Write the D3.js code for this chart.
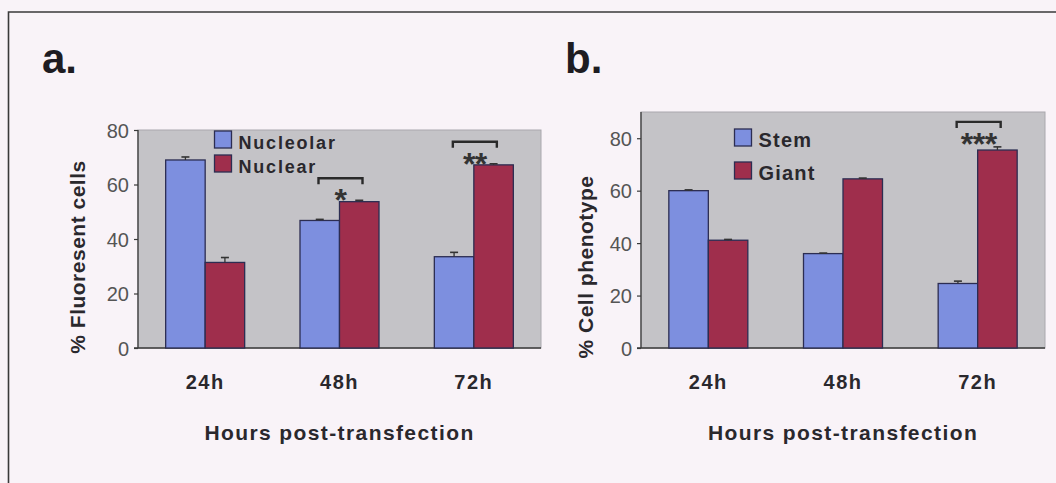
<!DOCTYPE html>
<html>
<head>
<meta charset="utf-8">
<script src="https://cdn.jsdelivr.net/npm/d3@7"></script>
<style>
  html, body { margin: 0; padding: 0; background: #f9f3f8; }
  svg { display: block; }
  text { font-family: "Liberation Sans", Arial, sans-serif; }
</style>
</head>
<body>
<svg id="fig" width="1056" height="483"></svg>
<script>
// ---- data ----
const categories = ["24h", "48h", "72h"];
const yTicks = [0, 20, 40, 60, 80];

// panel a: % fluorescent cells by localisation
const seriesA = ["Nucleolar", "Nuclear"];
const nucleolar = [69.0, 46.8, 33.5];
const nucleolarErr = [1.1, 0.4, 1.6];
const nuclear = [31.4, 53.7, 67.2];
const nuclearErr = [1.8, 0.5, 0.4];
const sigA = [{ cat: "48h", label: "*" }, { cat: "72h", label: "**" }];

// panel b: % cell phenotype
const seriesB = ["Stem", "Giant"];
const stem = [60.0, 36.0, 24.6];
const stemErr = [0.3, 0.2, 0.9];
const giant = [41.1, 64.5, 75.5];
const giantErr = [0.3, 0.3, 1.2];
const sigB = [{ cat: "72h", label: "***" }];

const xTitle = "Hours post-transfection";

// ---- styling ----
const COLORS = ["#7d8fdf", "#9f2e4c"];
const INK = "#2a282d";
const svg = d3.select("#fig");

// page frame
svg.append("path")
  .attr("d", "M8.5,483 V12 H1056")
  .attr("fill", "none").attr("stroke", "#3a3a3a").attr("stroke-width", 1.6);

function panel(opt) {
  const g = svg.append("g");
  const { left, right, top, bottom } = opt.box;

  const x0 = d3.scaleBand().domain(categories).range([left, right]).paddingInner(0).paddingOuter(0);
  const x1 = d3.scaleBand().domain(opt.series).range([0, 79]);
  const y = d3.scaleLinear().domain([0, opt.yMax]).range([bottom, top]);

  // plot area
  g.append("rect")
    .attr("x", left).attr("y", top).attr("width", right - left).attr("height", bottom - top)
    .attr("fill", "#c4c3c7").attr("stroke", "#aaa8ad").attr("stroke-width", 1);

  // y axis
  const ya = g.append("g").attr("transform", `translate(${left},0)`)
    .call(d3.axisLeft(y).tickValues(yTicks).tickSize(4).tickPadding(5).tickFormat(d3.format("d")));
  ya.select(".domain").attr("stroke", "#3a3a3a").attr("stroke-width", 1.3)
    .attr("d", `M0,${top}V${bottom}`);
  ya.selectAll(".tick line").attr("stroke", "#3a3a3a").attr("stroke-width", 1.2);
  ya.selectAll(".tick text").attr("fill", "#555").attr("font-size", 20).attr("dy", "0.36em");

  // baseline
  g.append("line").attr("x1", left - 4).attr("x2", right).attr("y1", bottom).attr("y2", bottom)
    .attr("stroke", "#3a3a3a").attr("stroke-width", 1.3);

  // bars
  const rows = [];
  categories.forEach((c, i) => {
    opt.series.forEach((s, j) => {
      rows.push({ cat: c, s, j, v: opt.values[j][i], e: opt.errors[j][i] });
    });
  });
  const bw = x1.bandwidth();
  const off = (x0.bandwidth() - 79) / 2;
  const bx = d => x0(d.cat) + off + x1(d.s);

  g.selectAll("rect.bar").data(rows).join("rect").attr("class", "bar")
    .attr("x", bx).attr("y", d => y(d.v))
    .attr("width", bw).attr("height", d => y(0) - y(d.v))
    .attr("fill", d => COLORS[d.j]).attr("stroke", "#2c2d52").attr("stroke-width", 1.3);

  // error bars
  const eb = g.selectAll("g.err").data(rows).join("g").attr("class", "err");
  eb.append("line")
    .attr("x1", d => bx(d) + bw / 2).attr("x2", d => bx(d) + bw / 2)
    .attr("y1", d => y(d.v)).attr("y2", d => y(d.v + d.e))
    .attr("stroke", "#333").attr("stroke-width", 1.3);
  eb.append("line")
    .attr("x1", d => bx(d) + bw / 2 - 4).attr("x2", d => bx(d) + bw / 2 + 4)
    .attr("y1", d => y(d.v + d.e)).attr("y2", d => y(d.v + d.e))
    .attr("stroke", "#333").attr("stroke-width", 1.6);

  // significance brackets
  opt.sig.forEach(sg => {
    const i = categories.indexOf(sg.cat);
    const top = d3.max(opt.series.map((s, j) => opt.values[j][i] + opt.errors[j][i]));
    const yb = y(top) - opt.bracketGap;
    const cx = x0(sg.cat) + x0.bandwidth() / 2 + 1;
    const hw = 22;
    g.append("path")
      .attr("d", `M${cx - hw},${yb + 6}V${yb}H${cx + hw}V${yb + 6}`)
      .attr("fill", "none").attr("stroke", "#2a2a2a").attr("stroke-width", 2.4);
    g.append("text")
      .attr("x", cx).attr("y", yb + 33)
      .attr("text-anchor", "middle").attr("font-size", 32).attr("font-weight", "bold")
      .attr("letter-spacing", -0.5)
      .attr("fill", "#333").text(sg.label);
  });

  // category labels
  g.selectAll("text.cat").data(categories).join("text").attr("class", "cat")
    .attr("x", d => x0(d) + x0.bandwidth() / 2).attr("y", bottom + 41)
    .attr("text-anchor", "middle").attr("font-size", 20).attr("font-weight", "bold")
    .attr("letter-spacing", 1.5).attr("fill", INK).text(d => d);

  // axis titles
  g.append("text")
    .attr("x", (left + right) / 2).attr("y", bottom + 92)
    .attr("text-anchor", "middle").attr("font-size", 21).attr("font-weight", "bold")
    .attr("letter-spacing", 1.4).attr("fill", INK).text(xTitle);
  g.append("text")
    .attr("transform", `translate(${opt.yTitle.x},${opt.yTitle.y}) rotate(-90)`)
    .attr("text-anchor", "middle").attr("font-size", 21).attr("font-weight", "bold")
    .attr("letter-spacing", 0.5).attr("fill", INK).text(opt.yTitle.text);

  // legend
  const lg = g.append("g");
  opt.series.forEach((s, j) => {
    const ly = opt.legend.y + j * opt.legend.step;
    lg.append("rect").attr("x", opt.legend.x).attr("y", ly).attr("width", 17).attr("height", 17)
      .attr("fill", COLORS[j]).attr("stroke", "#2c2d52").attr("stroke-width", 1.3);
    lg.append("text").attr("x", opt.legend.x + 24).attr("y", ly + 17.5)
      .attr("font-size", opt.legend.fs).attr("font-weight", "bold")
      .attr("letter-spacing", opt.legend.ls).attr("fill", INK).text(s);
  });

  // panel letter
  svg.append("text").attr("x", opt.letter.x).attr("y", 73)
    .attr("font-size", 42).attr("font-weight", "bold").attr("fill", "#1e1c22")
    .text(opt.letter.text);
}

panel({
  box: { left: 138, right: 541, top: 130, bottom: 348 },
  yMax: 80,
  series: seriesA,
  values: [nucleolar, nuclear],
  errors: [nucleolarErr, nuclearErr],
  sig: sigA,
  bracketGap: 22,
  yTitle: { x: 85, y: 257, text: "% Fluoresent cells" },
  legend: { x: 214.5, y: 131, step: 24, fs: 18, ls: 1.8 },
  letter: { x: 42, text: "a." }
});

panel({
  box: { left: 641, right: 1045, top: 112, bottom: 348 },
  yMax: 90,
  series: seriesB,
  values: [stem, giant],
  errors: [stemErr, giantErr],
  sig: sigB,
  bracketGap: 25,
  yTitle: { x: 593, y: 267, text: "% Cell phenotype" },
  legend: { x: 734.5, y: 129, step: 33, fs: 20, ls: 1.2 },
  letter: { x: 565, text: "b." }
});
</script>
</body>
</html>
